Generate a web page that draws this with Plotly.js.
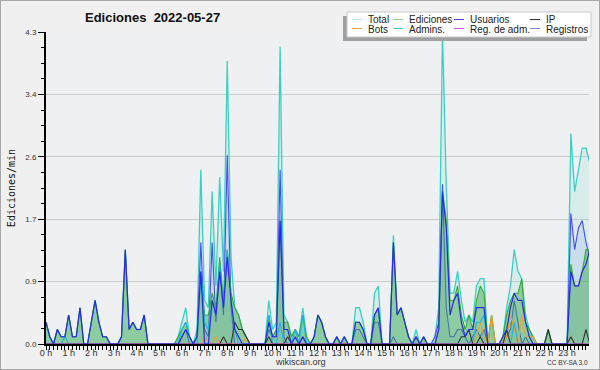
<!DOCTYPE html>
<html><head><meta charset="utf-8">
<script src="https://cdn.plot.ly/plotly-3.0.1.min.js"></script>
<style>
html,body{margin:0;padding:0;background:#f0f0f0;}
#wrap{width:600px;height:370px;box-sizing:border-box;border:1px solid #a8a8a8;background:#f0f0f0;overflow:hidden;}
#chart{width:598px;height:368px;}
</style></head><body><div id="wrap"><div id="chart"></div></div>
<script>
// ---- data: 10-minute bins, 2022-05-27 00:00 .. 24:00 (145 bins), edits per minute ----
const dayStart = [2022, 4, 27];
const binMinutes = 10;

const total = [
 0.3,0.1,0,0.2,0.1,0.1,  0.4,0.1,0.1,0.5,0,0,
 0.3,0.6,0.3,0.1,0.1,0,  0,0,0.1,1.3,0.2,0.3,
 0.2,0.2,0.4,0,0,0,      0,0,0,0,0,0.1,
 0.3,0.5,0.1,0,0.2,2.4,  0.6,0.5,2.1,0.8,2.3,1.0,
 3.9,1.2,0.5,0.4,0.2,0.1, 0,0,0,0,0,0.6,
 0.2,0.3,4.1,0.4,0.3,0.1, 0.2,0.1,0.5,0.1,0,0.1,
 0.4,0.3,0.1,0,0,0.1,    0,0.1,0,0,0.5,0.5,
 0.3,0,0,0.7,0.8,0,      0,0,1.5,0.4,0.5,0.3,
 0.1,0,0.2,0,0.1,0,      0,0.1,0.5,4.3,2.2,0.7,
 0.7,1.0,0.6,0.3,0.4,0.3, 0.8,0.9,0.9,0,0.4,0,
 0,0.1,0.5,0.8,1.3,1.0,  0.9,0.4,0.2,0.1,0,0,
 0,0.2,0,0,0,0,          0,2.9,2.1,2.4,2.7,2.7,
 2.5];

const ediciones = [
 0.3,0.1,0,0.2,0.1,0.1,  0.4,0.1,0.1,0.5,0,0,
 0.3,0.6,0.3,0.1,0.1,0,  0,0,0.1,1.3,0.2,0.3,
 0.2,0.2,0.4,0,0,0,      0,0,0,0,0,0.1,
 0.2,0.3,0.1,0,0.1,1.0,  0.4,0.4,0.7,0.5,1.2,0.6,
 1.3,0.7,0.5,0.4,0.2,0.1, 0,0,0,0,0,0.4,
 0.1,0.2,1.7,0.3,0.3,0.1, 0.2,0.1,0.4,0.1,0,0.1,
 0.4,0.3,0.1,0,0,0.1,    0,0.1,0,0,0.3,0.3,
 0.2,0,0,0.4,0.5,0,      0,0,1.4,0.4,0.5,0.3,
 0.1,0,0.1,0,0.1,0,      0,0,0.2,2.1,1.7,0.6,
 0.6,0.8,0.4,0.2,0.4,0.2, 0.6,0.8,0.7,0,0.4,0,
 0,0.1,0.4,0.6,0.7,0.7,  0.9,0.3,0.2,0.1,0,0,
 0,0.2,0,0,0,0,          0,1.1,0.8,0.8,1.0,1.3,
 1.3];

const usuarios = [
 0.3,0.1,0,0.2,0.1,0.1,  0.4,0.1,0.1,0.5,0,0,
 0.3,0.6,0.3,0.1,0.1,0,  0,0,0.1,1.3,0.2,0.3,
 0.2,0.2,0.4,0,0,0,      0,0,0,0,0,0,
 0.1,0.2,0.1,0,0.1,1.0,  0,0,0.6,0.4,1.0,0.5,
 1.2,0.6,0.2,0.1,0,0,    0,0,0,0,0,0.3,
 0.1,0.1,1.7,0.2,0.2,0,  0.1,0,0.1,0,0,0.1,
 0.4,0.3,0.1,0,0,0.1,    0,0.1,0,0,0.3,0.3,
 0.2,0,0,0.4,0.5,0,      0,0,1.4,0.4,0.5,0.3,
 0.1,0,0.1,0,0.1,0,      0,0,0.2,2.1,1.6,0.4,
 0.6,0.7,0.3,0.1,0.2,0.2, 0.5,0.5,0.5,0,0,0,
 0,0.1,0.2,0.5,0.7,0.6,  0.6,0.3,0.1,0,0,0,
 0,0,0,0,0,0,            0,1.0,0.8,0.8,1.0,1.1,
 1.3];

const ip = [
 0,0,0,0,0,0,  0,0,0,0,0,0,
 0,0,0,0,0,0,  0,0,0,0,0,0,
 0,0,0,0,0,0,  0,0,0,0,0,0,
 0,0,0,0,0,0,  0,0,0,0,0,0.1,
 0,0,0.3,0.2,0.2,0.1, 0,0,0,0,0,0.1,
 0,0,0,0,0.1,0, 0,0,0,0,0,0,
 0,0,0,0,0,0,  0,0,0,0,0,0,
 0,0,0,0,0,0,  0,0,0,0,0,0,
 0,0,0,0,0,0,  0,0,0,0,0,0,
 0,0,0.1,0.1,0.2,0, 0,0.1,0,0,0,0,
 0,0,0.2,0,0,0, 0,0,0,0,0,0,
 0,0.2,0,0,0,0, 0,0.1,0,0,0,0.2,
 0];

const bots = [
 0,0,0,0,0,0,  0,0,0,0,0,0,
 0,0,0,0,0,0,  0,0,0,0,0,0,
 0,0,0,0,0,0,  0,0,0,0,0,0,
 0,0,0,0,0,0,  0.1,0,0,0.1,0,0,
 0,0,0,0,0,0.1, 0,0,0,0,0,0,
 0,0,0,0,0,0,  0,0,0,0,0,0,
 0,0,0,0,0,0,  0,0,0,0,0,0,
 0,0,0,0,0,0,  0,0,0,0,0,0,
 0,0,0,0,0,0,  0,0,0,0,0,0,
 0,0,0,0,0,0,  0.1,0.3,0.1,0,0.4,0,
 0,0,0.1,0.4,0.2,0, 0.4,0.1,0.1,0.1,0,0,
 0,0,0,0,0,0,  0,0,0,0,0,0,
 0];

const admins = [
 0,0,0,0,0,0.1, 0,0,0,0,0,0,
 0,0,0,0,0,0,  0,0,0,0,0,0,
 0,0,0,0,0,0,  0,0,0,0,0,0,
 0.2,0.3,0.1,0,0,1.0, 0.3,0.2,0.6,0.4,1.1,0.5,
 1.3,0.6,0.2,0,0,0, 0,0,0,0,0,0.4,
 0,0,0.3,0,0,0, 0.2,0,0.4,0,0,0,
 0,0,0,0,0,0.1, 0,0.1,0,0,0,0,
 0,0,0,0,0,0,  0,0,0,0,0,0,
 0,0,0,0,0,0,  0,0,0,0,0,0,
 0,0,0,0,0,0,  0.3,0.3,0.4,0,0,0,
 0,0,0,0,0.3,0, 0,0,0,0,0,0,
 0,0,0,0,0,0,  0,0,0,0,0,0,
 0];

const regAdm = [
 0,0,0,0,0,0, 0,0,0,0,0,0, 0,0,0,0,0,0, 0,0,0,0,0,0,
 0,0,0,0,0,0, 0,0,0,0,0,0, 0,0,0,0,0,0, 0,0,0,0,0,0,
 0,0,0,0,0,0, 0,0,0,0,0,0, 0,0,0,0,0,0, 0,0,0,0,0,0,
 0,0,0,0,0,0, 0,0,0,0,0,0, 0,0,0,0,0,0, 0,0,0,0,0,0,
 0,0,0,0,0,0, 0,0,0,0,0,0, 0,0,0,0,0,0, 0,0,0,0,0,0,
 0,0,0,0,0,0, 0,0,0,0,0,0, 0,0,0,0,0,0, 0,0,0,0,0,0,
 0];

const registros = [
 0,0,0,0,0,0,  0,0,0,0,0,0,
 0,0,0,0,0,0,  0,0,0,0,0,0,
 0,0,0,0,0,0,  0,0,0,0,0,0,
 0.1,0.2,0,0,0.1,1.4, 0.2,0.1,1.4,0.3,1.1,0.4,
 2.6,0.5,0,0,0,0, 0,0,0,0,0,0.2,
 0.1,0.1,2.4,0.1,0,0, 0,0,0.1,0,0,0,
 0,0,0,0,0,0,  0,0,0,0,0.2,0.2,
 0.1,0,0,0.3,0.3,0, 0,0,0.1,0,0,0,
 0,0,0.1,0,0,0, 0,0.1,0.3,2.2,0.5,0.1,
 0.1,0.2,0.2,0.1,0,0.1, 0.2,0.1,0.2,0,0,0,
 0,0,0.1,0.2,0.6,0.3, 0,0.1,0,0,0,0,
 0,0,0,0,0,0,  0,1.8,1.3,1.6,1.7,1.4,
 1.2];

const yTickVals = [0, 0.86, 1.72, 2.58, 3.44, 4.3];
const yTickText = ['0.0', '0.9', '1.7', '2.6', '3.4', '4.3'];

const legendNames  = ['Total','Ediciones','Usuarios','IP','Bots','Admins.','Reg. de adm.','Registros'];
const legendColors = ['#b4e8e4','#90d090','#4848e0','#303030','#f0a040','#40c8e0','#d050e0','#8080f0'];

// ---- time axis values ----
function pad(n){return (n<10?'0':'')+n;}
const times = total.map((_, i) => {
  const d = new Date(Date.UTC(dayStart[0], dayStart[1], dayStart[2]) + i*binMinutes*60000);
  return d.getUTCFullYear()+'-'+pad(d.getUTCMonth()+1)+'-'+pad(d.getUTCDate())+' '+pad(d.getUTCHours())+':'+pad(d.getUTCMinutes());
});

function tr(name, y, color, width, fill, fillcolor){
  const t = {type:'scatter', mode:'lines', name:name, x:times, y:y,
    line:{color:color, width:width, shape:'linear'}, hoverinfo:'skip', showlegend:false};
  if (fill){ t.fill='tozeroy'; t.fillcolor=fillcolor; }
  return t;
}

const data = [
  tr('Total', total, '#3cd0c2', 1.3, true, 'rgba(64,208,192,0.13)'),
  tr('Registros', registros, '#4a4af5', 1.1, true, 'rgba(90,90,235,0.10)'),
  tr('Ediciones', ediciones, '#3aa83a', 1.1, true, 'rgba(60,170,80,0.48)'),
  tr('Bots', bots, '#f0a030', 1.1),
  tr('Admins.', admins, '#1cb4e4', 1.1),
  tr('IP', ip, '#333333', 1.1),
  tr('Reg. de adm.', regAdm, '#d040e0', 1.1),
  tr('Usuarios', usuarios, '#2a2ae0', 1.2)
];

// plot geometry (plot div is inset 1px by the frame)
const W=598, H=368, L=45, R=10, T=31, B=25;
const pw=W-L-R, ph=H-T-B;
function px(x){return (x-1-L)/pw;}
function py(y){return (H-B-(y-1))/ph;}

const shapes = [];
const annotations = [];
// legend frame with shadow
shapes.push({type:'rect', xref:'paper', yref:'paper', x0:px(343), x1:px(587), y0:py(41), y1:py(16),
  fillcolor:'#a0a0a0', line:{width:0}, layer:'above'});
shapes.push({type:'rect', xref:'paper', yref:'paper', x0:px(347), x1:px(591), y0:py(37), y1:py(12),
  fillcolor:'#ffffff', line:{color:'#c8c8c8', width:1}, layer:'above'});
const colX = [352, 393, 454, 530];
const rowY = [19.5, 28.5];
legendNames.forEach((n, k) => {
  const c = k % 4, r = Math.floor(k / 4);
  shapes.push({type:'line', xref:'paper', yref:'paper', x0:px(colX[c]), x1:px(colX[c]+10),
    y0:py(rowY[r]), y1:py(rowY[r]), line:{color:legendColors[k], width:1}, layer:'above'});
  annotations.push({xref:'paper', yref:'paper', x:px(colX[c]+14), y:py(rowY[r]+0.5), text:n,
    showarrow:false, xanchor:'left', yanchor:'middle',
    font:{family:'Liberation Sans', size:10, color:'#222'}});
});
annotations.push({xref:'paper', yref:'paper', x:px(300.5), y:py(362), text:'wikiscan.org', showarrow:false,
  xanchor:'center', yanchor:'middle', font:{family:'Liberation Sans', size:9, color:'#333'}});
annotations.push({xref:'paper', yref:'paper', x:px(590), y:py(362.5), text:'CC BY-SA 3.0', showarrow:false,
  xanchor:'right', yanchor:'middle', font:{family:'Liberation Sans', size:6.5, color:'#333'}});

const layout = {
  width:W, height:H,
  margin:{l:L, r:R, t:T, b:B, pad:0},
  paper_bgcolor:'#f0f0f0', plot_bgcolor:'#eef0f2',
  showlegend:false,
  title:{text:'Ediciones\u00a0 2022-05-27', xref:'container', yref:'container',
    x:84/W, xanchor:'left', y:1-16/H, yanchor:'middle',
    font:{family:'Liberation Sans', size:13, weight:'bold', color:'#111'}},
  xaxis:{type:'date', range:[times[0], '2022-05-27 23:58'],
    tick0:'2022-05-27 00:00', dtick:3600000, tickformat:'%-H h',
    ticks:'outside', ticklen:4, tickwidth:1, tickcolor:'#000', ticklabelstandoff:-5,
    minor:{dtick:600000, tick0:'2022-05-27 00:00', ticks:'outside', ticklen:4, tickwidth:1, tickcolor:'#000', showgrid:false},
    showline:true, linecolor:'#000', linewidth:2, showgrid:false, zeroline:false,
    tickfont:{family:'Liberation Sans', size:9, color:'#333'}, fixedrange:true},
  yaxis:{range:[0, 4.3], tickmode:'array', tickvals:yTickVals, ticktext:yTickText,
    ticks:'outside', ticklen:6, tickwidth:1, tickcolor:'#000',
    minor:{dtick:0.215, tick0:0, ticks:'outside', ticklen:3, tickwidth:1, tickcolor:'#000', showgrid:false},
    showline:true, linecolor:'#000', linewidth:2, showgrid:true, gridcolor:'#cccccc', gridwidth:1, zeroline:false,
    tickfont:{family:'Liberation Sans', size:8, color:'#333'},
    title:{text:'Ediciones/min', standoff:8, font:{family:'DejaVu Sans Mono', size:10, color:'#111'}},
    fixedrange:true},
  shapes:shapes,
  annotations:annotations
};

Plotly.newPlot('chart', data, layout, {staticPlot:true, displayModeBar:false});
</script>
</body></html>
